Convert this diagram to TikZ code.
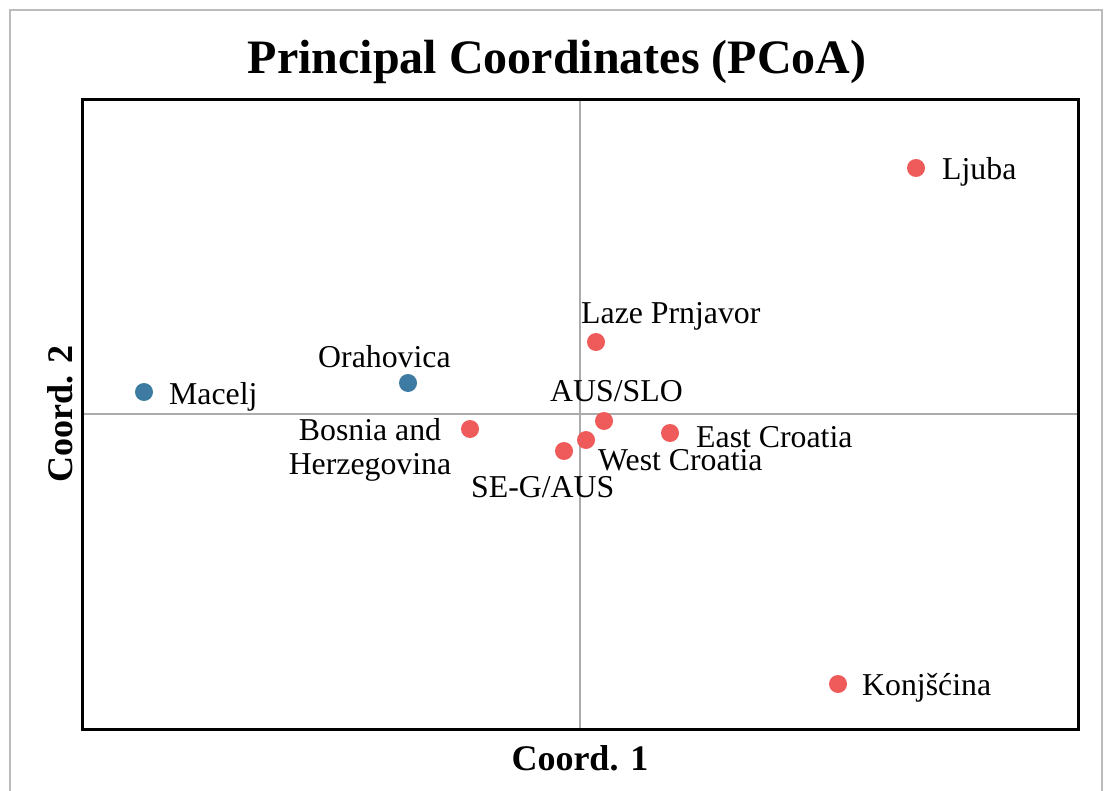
\documentclass[tikz,border=0pt]{standalone}
\usepackage{fontspec}
\setmainfont{Liberation Serif}
\definecolor{ptred}{HTML}{EF5B5B}
\definecolor{ptblue}{HTML}{3D7BA3}
\definecolor{gridgray}{HTML}{ABABAB}
\definecolor{outergray}{HTML}{BBBBBB}
\begin{document}
\begin{tikzpicture}[x=1pt,y=-1pt,
  dotred/.style={circle,fill=ptred,inner sep=0pt,minimum size=18pt},
  dotblue/.style={circle,fill=ptblue,inner sep=0pt,minimum size=18pt},
  lbl/.style={inner sep=0pt,font=\fontsize{31.8}{34}\selectfont},
  axlbl/.style={inner sep=0pt,font=\fontsize{36}{40}\selectfont\bfseries}]
\useasboundingbox (0,0) rectangle (1107,791);
\clip (0,0) rectangle (1107,791);
\fill[white] (0,0) rectangle (1107,791);
\draw[outergray,line width=1.5pt] (10,10) rectangle (1102,820);
% title
\node[inner sep=0pt,font=\fontsize{48}{52}\selectfont\bfseries] (title) at (557,62) {Principal Coordinates (PCoA)};
% grid lines
\coordinate (vtop) at (580,100);
\coordinate (vbot) at (580,729);
\coordinate (hl) at (82,414);
\coordinate (hr) at (1078,414);
\draw[gridgray,line width=1.3pt] (vtop) -- (vbot);
\draw[gridgray,line width=1.3pt] (hl) -- (hr);
% frame
\draw[black,line width=3pt] (82,100) rectangle (1078,729);
% axis labels
\node[axlbl] (xlab) at (580,758) {Coord. 1};
\node[axlbl,rotate=90] (ylab) at (60,414) {Coord. 2};
% points
\node[dotred] (ljuba) at (916,168) {};
\node[dotred] (laze) at (596,342) {};
\node[dotblue] (orah) at (408,383) {};
\node[dotblue] (macelj) at (144,392) {};
\node[dotred] (ausslo) at (604,421) {};
\node[dotred] (bosnia) at (470,429) {};
\node[dotred] (east) at (670,433) {};
\node[dotred] (west) at (586,440) {};
\node[dotred] (seg) at (564,451) {};
\node[dotred] (konj) at (838,684) {};
% labels
\node[lbl,anchor=west] (ljubaL) at (942,172) {Ljuba};
\node[lbl,anchor=west] (lazeL) at (581,316) {Laze Prnjavor};
\node[lbl,anchor=west] (orahL) at (318,357) {Orahovica};
\node[lbl,anchor=west] (maceljL) at (169,397) {Macelj};
\node[lbl,anchor=west] (aussloL) at (550,391) {AUS/SLO};
\node[lbl,align=center] (bosniaL) at (370,450) {Bosnia and\\Herzegovina};
\node[lbl,anchor=west] (eastL) at (696,437) {East Croatia};
\node[lbl,anchor=west] (westL) at (598,460) {West Croatia};
\node[lbl,anchor=west] (segL) at (471,487) {SE-G/AUS};
\node[lbl,anchor=west] (konjL) at (862,688) {Konjšćina};
\end{tikzpicture}
\end{document}
